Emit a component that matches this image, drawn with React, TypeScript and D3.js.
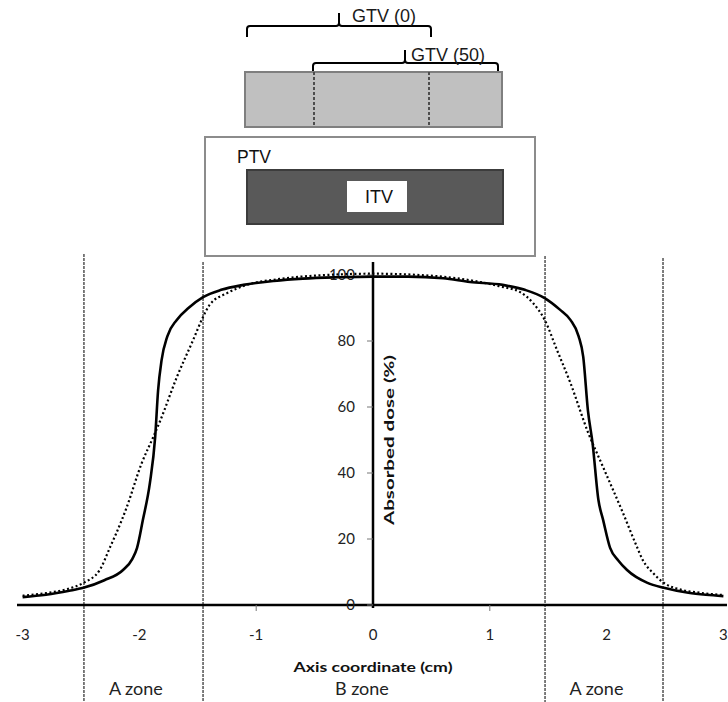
import React from "react";
import * as d3 from "d3";

// ---- Data ----
const solidX = [-3, -2.8, -2.6, -2.48, -2.3, -2.14, -2.06, -2.02, -1.97, -1.91, -1.865, -1.84, -1.81, -1.76, -1.68, -1.58, -1.455, -1.3, -1.11, -0.85, -0.6, -0.3, 0, 0.3, 0.6, 0.83, 1.11, 1.3, 1.47, 1.6, 1.69, 1.76, 1.8, 1.84, 1.88, 1.93, 1.97, 2.03, 2.1, 2.175, 2.35, 2.49, 2.7, 2.85, 3];
const solidDose = [2.4, 3.1, 4.3, 5.2, 7.5, 10.6, 14, 17.3, 25.8, 37, 50.9, 65, 74.2, 81.5, 86.4, 90, 93.3, 95.5, 97, 98.2, 98.9, 99.3, 99.5, 99.5, 99, 97.9, 97, 95.5, 93, 89.5, 86.4, 81.5, 75.2, 59, 49, 31.8, 25.8, 17.3, 13.5, 10.6, 6.7, 5.2, 3.7, 3.1, 2.7];

const dottedX = [-3, -2.8, -2.62, -2.48, -2.34, -2.25, -2.15, -2.11, -1.98, -1.88, -1.82, -1.68, -1.54, -1.455, -1.4, -1.25, -1.08, -0.8, -0.4, 0, 0.4, 0.8, 1.08, 1.26, 1.37, 1.47, 1.575, 1.69, 1.84, 1.97, 2.14, 2.26, 2.31, 2.4, 2.49, 2.62, 2.8, 3];
const dottedDose = [2.8, 3.6, 4.8, 6.7, 10.6, 17.6, 25.8, 29.5, 43, 51, 56, 69, 80.3, 87.3, 90.9, 94.5, 97, 98.8, 100, 100.4, 100, 98.6, 96.6, 94.8, 91.5, 86.4, 77.3, 67.3, 52.4, 41.8, 27.9, 17.6, 13.6, 9.6, 6.7, 4.8, 3.7, 3];

const xTickValues = [-3, -2, -1, 0, 1, 2, 3];
const xTickLabels = ["-3", "-2", "-1", "0", "1", "2", "3"];
const yTickValues = [0, 20, 40, 60, 80, 100];
const zoneBoundaries = [-2.475, -1.455, 1.473, 2.483];
const zoneLabels = ["A zone", "B zone", "A zone"];
const zoneLabelX = [-2.03, -0.095, 1.913];

const xTitle = "Axis coordinate (cm)";
const yTitle = "Absorbed dose (%)";

const AXIS_FONT = "Lato, 'Open Sans', sans-serif";
const DIAG_FONT = "'Liberation Sans', Arial, sans-serif";

function bracket(x1: number, x2: number, xm: number, yh: number, yTop: number, yEnd: number) {
  const r = 3;
  return `M${x1},${yEnd} L${x1},${yh + r} Q${x1},${yh} ${x1 + r},${yh} L${xm - r},${yh} Q${xm},${yh} ${xm},${yh - r} L${xm},${yTop} M${xm},${yh - r} Q${xm},${yh} ${xm + r},${yh} L${x2 - r},${yh} Q${x2},${yh} ${x2},${yh + r} L${x2},${yEnd}`;
}

export default function App() {
  const x = d3.scaleLinear().domain([-3, 3]).range([22.6, 723.4]);
  const y = d3.scaleLinear().domain([0, 100]).range([605, 275]);

  const line = d3
    .line<[number, number]>()
    .x((d) => x(d[0]))
    .y((d) => y(d[1]))
    .curve(d3.curveMonotoneX);

  const solidPath = line(solidX.map((v, i) => [v, solidDose[i]] as [number, number])) || "";
  const dottedPath = line(dottedX.map((v, i) => [v, dottedDose[i]] as [number, number])) || "";

  const zoneTops = [254, 262, 256, 258];

  return (
    <svg
      width={728}
      height={702}
      style={{ position: "absolute", left: 0, top: 0, background: "#fff" }}
    >
      <rect x={0} y={0} width={728} height={702} fill="#fff" />

      {/* ---- Top diagram ---- */}
      <path d={bracket(247, 431, 339, 26, 13, 37)} fill="none" stroke="#000" strokeWidth={2} />
      <text x={352} y={22} fontFamily={DIAG_FONT} fontSize={18} fill="#1a1a1a">GTV (0)</text>
      <path d={bracket(313, 498, 405, 63, 50, 71)} fill="none" stroke="#000" strokeWidth={2} />
      <text x={411} y={61} fontFamily={DIAG_FONT} fontSize={18} fill="#1a1a1a">GTV (50)</text>

      <rect x={245} y={72} width={257} height={55} fill="#c0c0c0" stroke="#7f7f7f" strokeWidth={2} />
      <line x1={314} x2={314} y1={72} y2={127} stroke="#4d4d4d" strokeWidth={2} strokeDasharray="3,2" />
      <line x1={429} x2={429} y1={72} y2={127} stroke="#4d4d4d" strokeWidth={2} strokeDasharray="3,2" />

      <rect x={205} y={137} width={330} height={119} fill="#fff" stroke="#8c8c8c" strokeWidth={2} />
      <text x={237} y={163} fontFamily={DIAG_FONT} fontSize={17.5} fill="#111">PTV</text>
      <rect x={247} y={170} width={256} height={54} fill="#595959" stroke="#3c3c3c" strokeWidth={2} />
      <rect x={347} y={181} width={60} height={31} fill="#fff" />
      <text x={379} y={203} textAnchor="middle" fontFamily={DIAG_FONT} fontSize={18} fill="#111">ITV</text>

      {/* ---- Zone boundaries ---- */}
      {zoneBoundaries.map((b, i) => (
        <line
          key={"zb" + i}
          x1={x(b)}
          x2={x(b)}
          y1={zoneTops[i]}
          y2={702}
          stroke="#707070"
          strokeWidth={1.8}
          strokeDasharray="3,1"
        />
      ))}

      {/* ---- Axes ---- */}
      <line x1={17} x2={727} y1={y(0)} y2={y(0)} stroke="#000" strokeWidth={2.5} />
      <line x1={x(0)} x2={x(0)} y1={262} y2={608} stroke="#000" strokeWidth={2.5} />

      {[-1, 1].map((v) => (
        <line key={"xt" + v} x1={x(v)} x2={x(v)} y1={y(0)} y2={y(0) + 6} stroke="#777" strokeWidth={1} />
      ))}
      {xTickValues.map((v, i) => (
        <text key={"xl" + v} x={x(v)} y={640} textAnchor="middle" fontFamily={AXIS_FONT} fontSize={15} fill="#222">
          {xTickLabels[i]}
        </text>
      ))}

      {yTickValues.map((v) => (
        <line key={"yt" + v} x1={x(0) - 6} x2={x(0)} y1={y(v)} y2={y(v)} stroke="#777" strokeWidth={1} />
      ))}
      {yTickValues.map((v) => (
        <text key={"yl" + v} x={355} y={y(v) + 5} textAnchor="end" fontFamily={AXIS_FONT} fontSize={15} fill="#222">
          {v}
        </text>
      ))}

      {/* ---- Curves ---- */}
      <path d={dottedPath} fill="none" stroke="#000" strokeWidth={2.2} strokeDasharray="2,2.5" />
      <path d={solidPath} fill="none" stroke="#000" strokeWidth={2.6} />

      {/* ---- Titles ---- */}
      <text
        x={373}
        y={672}
        textAnchor="middle"
        fontFamily={AXIS_FONT}
        fontWeight="bold"
        fontSize={14}
        textLength={159}
        lengthAdjust="spacingAndGlyphs"
        fill="#111"
      >
        {xTitle}
      </text>
      <text
        transform="translate(394,440) rotate(-90)"
        textAnchor="middle"
        fontFamily={AXIS_FONT}
        fontWeight="bold"
        fontSize={14}
        textLength={170}
        lengthAdjust="spacingAndGlyphs"
        fill="#111"
      >
        {yTitle}
      </text>

      {zoneLabels.map((t, i) => (
        <text key={"zl" + i} x={x(zoneLabelX[i])} y={695} textAnchor="middle" fontFamily={AXIS_FONT} fontSize={18} fill="#222">
          {t}
        </text>
      ))}
    </svg>
  );
}
